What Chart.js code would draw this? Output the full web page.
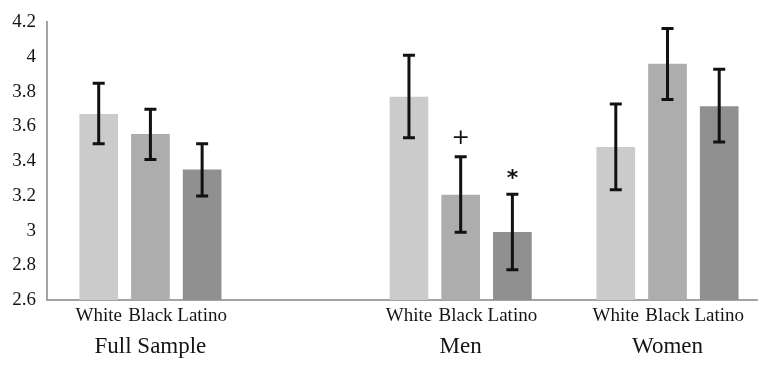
<!DOCTYPE html>
<html>
<head>
<meta charset="utf-8">
<script src="https://cdn.jsdelivr.net/npm/chart.js@4/dist/chart.umd.min.js"></script>
<style>
  html, body { margin: 0; padding: 0; background: #fff; }
  #wrap { width: 758px; height: 368px; }
</style>
</head>
<body>
<div id="wrap"><canvas id="chart"></canvas></div>
<script>
// groups and bars
var groups = ['Full Sample', 'Men', 'Women'];
var races = ['White', 'Black', 'Latino'];
var raceColors = ['#cbcbcb', '#adadad', '#909090'];

// means per group (White, Black, Latino)
var fullMeans = [3.67, 3.555, 3.35];
var menMeans = [3.77, 3.205, 2.99];
var womenMeans = [3.48, 3.96, 3.715];

// error bar ends
var fullLow = [3.50, 3.41, 3.20];
var fullHigh = [3.85, 3.70, 3.50];
var menLow = [3.535, 2.99, 2.775];
var menHigh = [4.01, 3.425, 3.21];
var womenLow = [3.235, 3.755, 3.51];
var womenHigh = [3.73, 4.165, 3.93];

// significance marks
var menMarks = ['', '+', '*'];

var yTicks = [2.6, 2.8, 3, 3.2, 3.4, 3.6, 3.8, 4, 4.2];

// slot where each group starts on the x axis (gaps between groups)
var groupStart = [0, 6, 10];

var means = [fullMeans, menMeans, womenMeans];
var lows = [fullLow, menLow, womenLow];
var highs = [fullHigh, menHigh, womenHigh];
var marks = [['', '', ''], menMarks, ['', '', '']];

var points = [], colors = [], tickSlots = [], tickNames = [];
groups.forEach(function (g, gi) {
    races.forEach(function (r, ri) {
        var slot = groupStart[gi] + ri;
        points.push({ x: slot, y: means[gi][ri], lo: lows[gi][ri], hi: highs[gi][ri], mark: marks[gi][ri] });
        colors.push(raceColors[ri]);
        tickSlots.push(slot);
        tickNames.push(r);
    });
});

var serif = "'Liberation Serif', 'Times New Roman', serif";

var errorBars = {
    id: 'errorBars',
    afterDatasetsDraw: function (chart) {
        var ctx = chart.ctx;
        var xs = chart.scales.x, ys = chart.scales.y;
        ctx.save();
        ctx.strokeStyle = '#111';
        ctx.fillStyle = '#111';
        ctx.lineWidth = 3;
        points.forEach(function (p) {
            var x = xs.getPixelForValue(p.x);
            var yTop = ys.getPixelForValue(p.hi);
            var yBot = ys.getPixelForValue(p.lo);
            ctx.beginPath();
            ctx.moveTo(x, yTop); ctx.lineTo(x, yBot);
            ctx.moveTo(x - 6, yTop); ctx.lineTo(x + 6, yTop);
            ctx.moveTo(x - 6, yBot); ctx.lineTo(x + 6, yBot);
            ctx.stroke();
            if (p.mark) {
                ctx.font = (p.mark === '*' ? 'bold ' : '') + "22px 'DejaVu Sans', sans-serif";
                ctx.textAlign = 'center';
                ctx.textBaseline = 'middle';
                ctx.fillText(p.mark, x, yTop - (p.mark === '*' ? 15 : 19));
            }
        });
        // group names under the middle bar of each group
        ctx.font = '23px ' + serif;
        ctx.fillStyle = '#151515';
        ctx.textAlign = 'center';
        ctx.textBaseline = 'middle';
        groups.forEach(function (g, gi) {
            ctx.fillText(g, xs.getPixelForValue(groupStart[gi] + 1), 347);
        });
        ctx.restore();
    }
};

new Chart(document.getElementById('chart'), {
    type: 'bar',
    data: {
        datasets: [{
            data: points,
            backgroundColor: colors,
            borderWidth: 0,
            barThickness: 38
        }]
    },
    options: {
        responsive: true,
        maintainAspectRatio: false,
        animation: false,
        layout: { padding: { top: 17, right: 0, left: 0, bottom: 0 } },
        plugins: {
            legend: { display: false },
            tooltip: { enabled: false }
        },
        scales: {
            x: {
                type: 'linear',
                offset: false,
                min: -1,
                max: 12.75,
                grid: { display: false, drawTicks: false },
                border: { display: true, color: '#a3a3a3', width: 2 },
                afterBuildTicks: function (scale) {
                    scale.ticks = tickSlots.map(function (s) { return { value: s }; });
                },
                afterFit: function (scale) { scale.height = 68; },
                ticks: {
                    autoSkip: false,
                    maxRotation: 0,
                    padding: 5,
                    color: '#151515',
                    font: { size: 19, family: serif },
                    callback: function (v, i) { return tickNames[i]; }
                }
            },
            y: {
                min: 2.6,
                max: 4.2,
                grid: { display: false, drawTicks: false },
                border: { display: true, color: '#a3a3a3', width: 2 },
                afterBuildTicks: function (scale) {
                    scale.ticks = yTicks.map(function (v) { return { value: v }; });
                },
                afterFit: function (scale) { scale.width = 47; },
                ticks: {
                    padding: 11,
                    color: '#151515',
                    font: { size: 19, family: serif },
                    callback: function (v) { return String(Number(v.toFixed(1))); }
                }
            }
        }
    },
    plugins: [errorBars]
});
</script>
</body>
</html>
